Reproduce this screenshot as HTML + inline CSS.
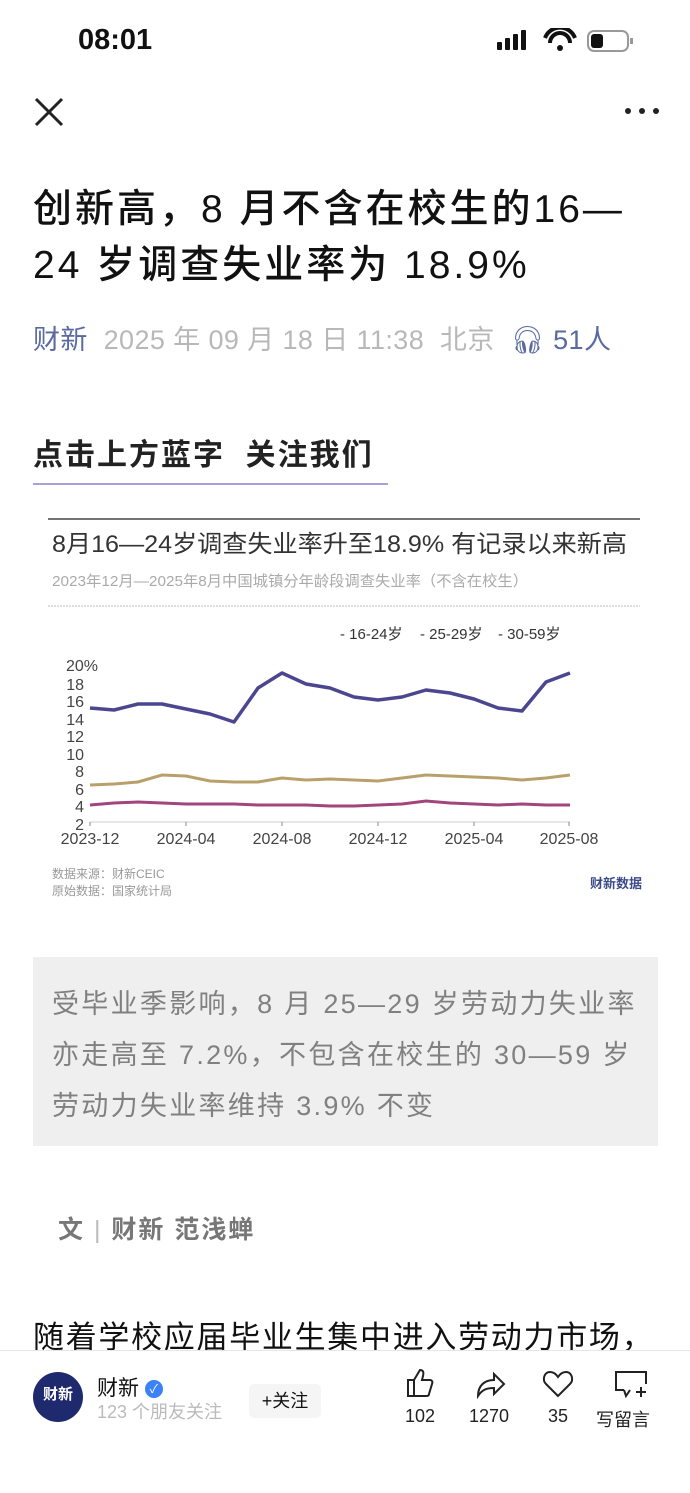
<!DOCTYPE html>
<html><head><meta charset="utf-8"><style>
*{margin:0;padding:0;box-sizing:border-box}
body{width:690px;height:1493px;overflow:hidden;background:#fff;position:relative;font-family:"Liberation Sans","Noto Sans CJK SC",sans-serif;color:#111}
.a{position:absolute;white-space:nowrap}
</style></head><body>
<div class="a" style="left:78px;top:24px;font-size:29px;font-weight:bold">08:01</div>
<svg class="a" style="left:495px;top:28px" width="145" height="28">
<rect x="2" y="14" width="5" height="8" rx="1" fill="#111"/><rect x="10" y="10" width="5" height="12" rx="1" fill="#111"/><rect x="18" y="6" width="5" height="16" rx="1" fill="#111"/><rect x="26" y="2" width="5" height="20" rx="1" fill="#111"/>
<path d="M50 10 a16 16 0 0 1 30 0" stroke="#111" stroke-width="4" fill="none"/><path d="M55 15 a10 10 0 0 1 20 0" stroke="#111" stroke-width="4" fill="none"/><circle cx="65" cy="20" r="3" fill="#111"/>
<rect x="93" y="3" width="40" height="20" rx="6" stroke="#999" stroke-width="2" fill="none"/><rect x="96" y="6" width="12" height="14" rx="3" fill="#111"/><rect x="135" y="10" width="3" height="6" fill="#999"/>
</svg>
<svg class="a" style="left:34px;top:97px" width="30" height="30"><path d="M2 2L28 28M28 2L2 28" stroke="#222" stroke-width="3"/></svg>
<svg class="a" style="left:624px;top:106px" width="36" height="10"><circle cx="4" cy="5" r="3" fill="#222"/><circle cx="18" cy="5" r="3" fill="#222"/><circle cx="32" cy="5" r="3" fill="#222"/></svg>
<div class="a" style="left:33px;top:182px;font-size:39px;line-height:56px;font-weight:500;color:#111;letter-spacing:3px">创新高，8 月不含在校生的16—<br>24 岁调查失业率为 18.9%</div>
<div class="a" style="left:33px;top:318px;font-size:27px;color:#b8b8b8;letter-spacing:0.4px"><span style="color:#5a6aa0">财新</span>&nbsp; 2025 年 09 月 18 日 11:38&nbsp; 北京 &nbsp;<span style="color:#5a6aa0">🎧︎ 51人</span></div>
<div class="a" style="left:33px;top:430px;font-size:30px;font-weight:bold;color:#222;letter-spacing:2px">点击上方蓝字&nbsp; 关注我们</div>
<div class="a" style="left:33px;top:483px;width:355px;height:2px;background:#a9a0d8"></div>

<svg class="a" style="left:0;top:500px" width="690" height="410" font-family="Liberation Sans,Noto Sans CJK SC,sans-serif">
<line x1="48" y1="19" x2="640" y2="19" stroke="#444" stroke-width="1.5"/>
<text x="52" y="52" font-size="24" fill="#333" textLength="575" lengthAdjust="spacingAndGlyphs">8月16—24岁调查失业率升至18.9% 有记录以来新高</text>
<text x="52" y="86" font-size="15" fill="#aaa" textLength="476" lengthAdjust="spacingAndGlyphs">2023年12月—2025年8月中国城镇分年龄段调查失业率（不含在校生）</text>
<line x1="48" y1="106" x2="640" y2="106" stroke="#bbb" stroke-dasharray="2 1"/>
<g font-size="15" fill="#333"><text x="340" y="139">- 16-24岁</text><text x="420" y="139">- 25-29岁</text><text x="498" y="139">- 30-59岁</text></g>
<g font-size="16" fill="#444" text-anchor="end">
<text x="98" y="171">20%</text><text x="84" y="190">18</text><text x="84" y="207">16</text><text x="84" y="225">14</text><text x="84" y="242">12</text><text x="84" y="260">10</text><text x="84" y="277">8</text><text x="84" y="295">6</text><text x="84" y="312">4</text><text x="84" y="330">2</text></g>
<line x1="90" y1="322" x2="570" y2="322" stroke="#ccc"/>
<g stroke="#888"><line x1="90" y1="322" x2="90" y2="326"/><line x1="186" y1="322" x2="186" y2="326"/><line x1="282" y1="322" x2="282" y2="326"/><line x1="378" y1="322" x2="378" y2="326"/><line x1="474" y1="322" x2="474" y2="326"/><line x1="569" y1="322" x2="569" y2="326"/></g>
<g font-size="16" fill="#444" text-anchor="middle"><text x="90" y="344">2023-12</text><text x="186" y="344">2024-04</text><text x="282" y="344">2024-08</text><text x="378" y="344">2024-12</text><text x="474" y="344">2025-04</text><text x="569" y="344">2025-08</text></g>
<polyline fill="none" stroke="#4b4690" stroke-width="3.5" stroke-linejoin="round" points="90,208 114,210 138,204 162,204 186,209 210,214 234,222 258,188 282,173 306,184 330,188 354,197 378,200 402,197 426,190 450,193 474,199 498,208 522,211 546,182 570,173"/>
<polyline fill="none" stroke="#b9a06a" stroke-width="3" points="90,285 114,284 138,282 162,275 186,276 210,281 234,282 258,282 282,278 306,280 330,279 354,280 378,281 402,278 426,275 450,276 474,277 498,278 522,280 546,278 570,275"/>
<polyline fill="none" stroke="#a3457d" stroke-width="3" points="90,305 114,303 138,302 162,303 186,304 210,304 234,304 258,305 282,305 306,305 330,306 354,306 378,305 402,304 426,301 450,303 474,304 498,305 522,304 546,305 570,305"/>
<text x="52" y="378" font-size="12" fill="#999">数据来源：财新CEIC</text>
<text x="52" y="395" font-size="12" fill="#999">原始数据：国家统计局</text>
<text x="590" y="388" font-size="13" font-weight="bold" fill="#3b4a8a">财新数据</text>
</svg>

<div class="a" style="left:33px;top:957px;width:625px;height:189px;background:#efefef"></div>
<div class="a" style="left:52px;top:979px;font-size:27px;line-height:51px;color:#808080;letter-spacing:2.3px">受毕业季影响，8 月 25—29 岁劳动力失业率<br>亦走高至 7.2%，不包含在校生的 30—59 岁<br>劳动力失业率维持 3.9% 不变</div>
<div class="a" style="left:58px;top:1210px;font-size:25px;font-weight:bold;color:#777;letter-spacing:2px">文 <span style="font-weight:normal;color:#bbb">|</span> 财新 范浅蝉</div>
<div class="a" style="left:33px;top:1312px;font-size:31px;color:#111;letter-spacing:1.7px">随着学校应届毕业生集中进入劳动力市场，</div>
<div class="a" style="left:0;top:1350px;width:690px;height:143px;background:#fff;border-top:1px solid #e6e6e6"></div>
<div class="a" style="left:33px;top:1372px;width:50px;height:50px;border-radius:50%;background:#1f2a6e;color:#fff;font-size:15px;font-weight:bold;text-align:center;line-height:46px">财新</div>
<div class="a" style="left:97px;top:1372px;font-size:21px;color:#111">财新 <span style="display:inline-block;width:18px;height:18px;border-radius:50%;background:#3b82f6;color:#fff;font-size:12px;text-align:center;line-height:18px;vertical-align:2px">✓</span></div>
<div class="a" style="left:97px;top:1398px;font-size:18px;color:#bbb">123 个朋友关注</div>
<div class="a" style="left:249px;top:1384px;width:72px;height:34px;background:#f5f5f5;border-radius:5px;font-size:18px;text-align:center;line-height:34px">+关注</div>
<svg class="a" style="left:400px;top:1366px" width="260" height="36" fill="none" stroke="#222" stroke-width="2">
<path d="M8 14h6v16H8zM14 14l6-10c3 0 4 2 3 6l-1 4h8c2 0 3 2 2 4l-3 10c0 2-2 2-3 2H14"/>
<path d="M78 30c0-10 6-16 16-16v-6l10 10-10 10v-6c-8 0-12 2-16 8z"/>
<path d="M158 30l-12-12c-4-4-2-12 4-12 3 0 6 2 8 5 2-3 5-5 8-5 6 0 8 8 4 12z"/>
<path d="M224 24h-8V6h30v12M224 24l2 6 4-6M236 26h10M241 21v10"/>
</svg>
<div class="a" style="left:400px;top:1406px;width:40px;text-align:center;font-size:18px;color:#222">102</div>
<div class="a" style="left:464px;top:1406px;width:50px;text-align:center;font-size:18px;color:#222">1270</div>
<div class="a" style="left:540px;top:1406px;width:36px;text-align:center;font-size:18px;color:#222">35</div>
<div class="a" style="left:596px;top:1406px;font-size:18px;color:#222">写留言</div>
</body></html>
